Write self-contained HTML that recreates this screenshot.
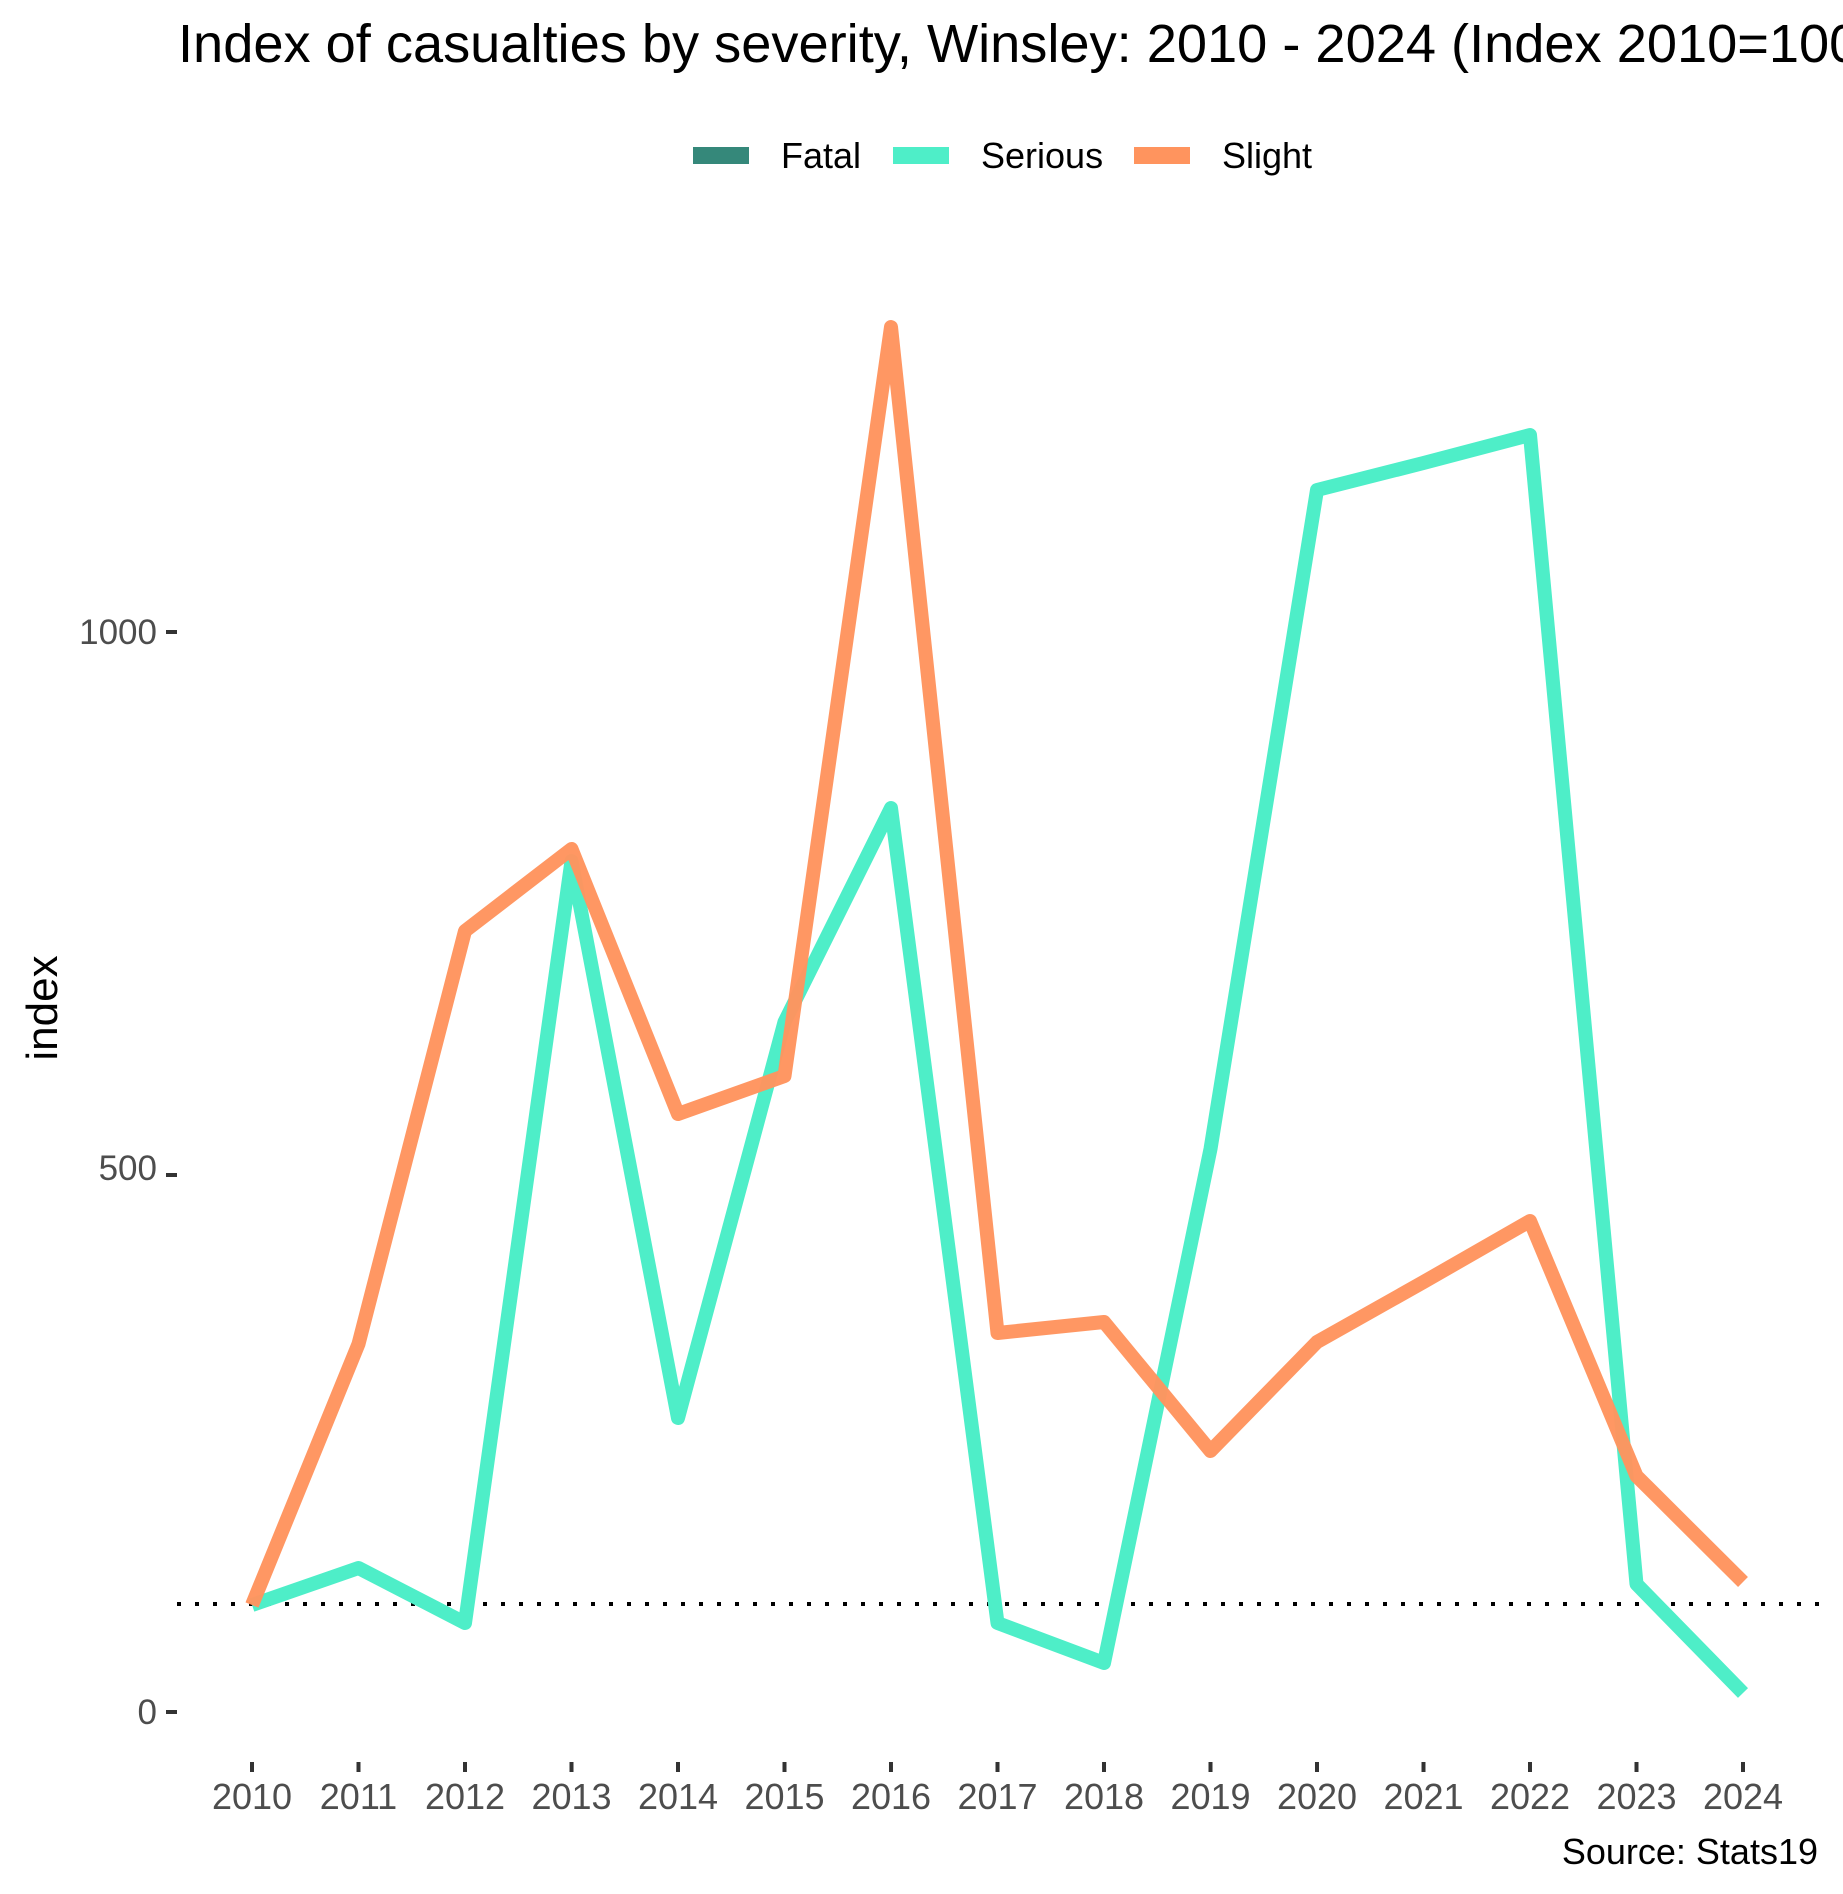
<!DOCTYPE html>
<html><head><meta charset="utf-8"><style>html,body{margin:0;padding:0;background:#fff}svg{display:block}</style></head>
<body>
<svg width="1843" height="1894" viewBox="0 0 1843 1894" xmlns="http://www.w3.org/2000/svg" font-family="Liberation Sans, Arial, sans-serif">
<rect width="1843" height="1894" fill="#fff"/>
<text x="178" y="62" font-size="54.2" fill="#000">Index of casualties by severity, Winsley: 2010 - 2024 (Index 2010=100)</text>
<rect x="693" y="147" width="56" height="17" fill="#35887a"/>
<text x="781" y="168" font-size="36" fill="#000">Fatal</text>
<rect x="893" y="147" width="56" height="17" fill="#4eeec8"/>
<text x="981" y="168" font-size="36" fill="#000">Serious</text>
<rect x="1134" y="147" width="56" height="17" fill="#ff945e"/>
<text x="1222" y="168" font-size="36" fill="#000">Slight</text>
<g font-size="35" fill="#4d4d4d" text-anchor="end">
<text x="157" y="644">1000</text>
<text x="157" y="1180">500</text>
<text x="157" y="1724">0</text>
</g>
<g stroke="#333" stroke-width="4">
<line x1="166" y1="632" x2="177" y2="632"/>
<line x1="166" y1="1175" x2="177" y2="1175"/>
<line x1="166" y1="1712" x2="177" y2="1712"/>
</g>
<text transform="translate(57,1008) rotate(-90)" font-size="44" text-anchor="middle" fill="#000">index</text>
<line x1="177" y1="1604" x2="1820" y2="1604" stroke="#000" stroke-width="4" stroke-dasharray="4,14"/>
<g fill="none" stroke-width="14" stroke-linejoin="round" stroke-linecap="butt">
<polyline stroke="#4eeec8" points="252,1605 358.5,1568 465,1623 571.5,861 678,1418 784.5,1022 891,808 997.5,1623 1104,1663 1210.5,1149 1317,490 1423.5,463 1530,435 1636.5,1584 1743,1693"/>
<polyline stroke="#ff945e" stroke-opacity="0.97" points="252,1605 358.5,1344 465,931 571.5,849 678,1114 784.5,1076 891,327 997.5,1333 1104,1322 1210.5,1451 1317,1342 1423.5,1282 1530,1221 1636.5,1476 1743,1582"/>
</g>
<g stroke="#333" stroke-width="4">
<line x1="252" y1="1762" x2="252" y2="1772"/><line x1="358.5" y1="1762" x2="358.5" y2="1772"/><line x1="465" y1="1762" x2="465" y2="1772"/><line x1="571.5" y1="1762" x2="571.5" y2="1772"/><line x1="678" y1="1762" x2="678" y2="1772"/><line x1="784.5" y1="1762" x2="784.5" y2="1772"/><line x1="891" y1="1762" x2="891" y2="1772"/><line x1="997.5" y1="1762" x2="997.5" y2="1772"/><line x1="1104" y1="1762" x2="1104" y2="1772"/><line x1="1210.5" y1="1762" x2="1210.5" y2="1772"/><line x1="1317" y1="1762" x2="1317" y2="1772"/><line x1="1423.5" y1="1762" x2="1423.5" y2="1772"/><line x1="1530" y1="1762" x2="1530" y2="1772"/><line x1="1636.5" y1="1762" x2="1636.5" y2="1772"/><line x1="1743" y1="1762" x2="1743" y2="1772"/>
</g>
<g font-size="36" fill="#4d4d4d" text-anchor="middle">
<text x="252" y="1809">2010</text><text x="358.5" y="1809">2011</text><text x="465" y="1809">2012</text><text x="571.5" y="1809">2013</text><text x="678" y="1809">2014</text><text x="784.5" y="1809">2015</text><text x="891" y="1809">2016</text><text x="997.5" y="1809">2017</text><text x="1104" y="1809">2018</text><text x="1210.5" y="1809">2019</text><text x="1317" y="1809">2020</text><text x="1423.5" y="1809">2021</text><text x="1530" y="1809">2022</text><text x="1636.5" y="1809">2023</text><text x="1743" y="1809">2024</text>
</g>
<text x="1818" y="1864" font-size="36" text-anchor="end" fill="#000">Source: Stats19</text>
</svg>
</body></html>
